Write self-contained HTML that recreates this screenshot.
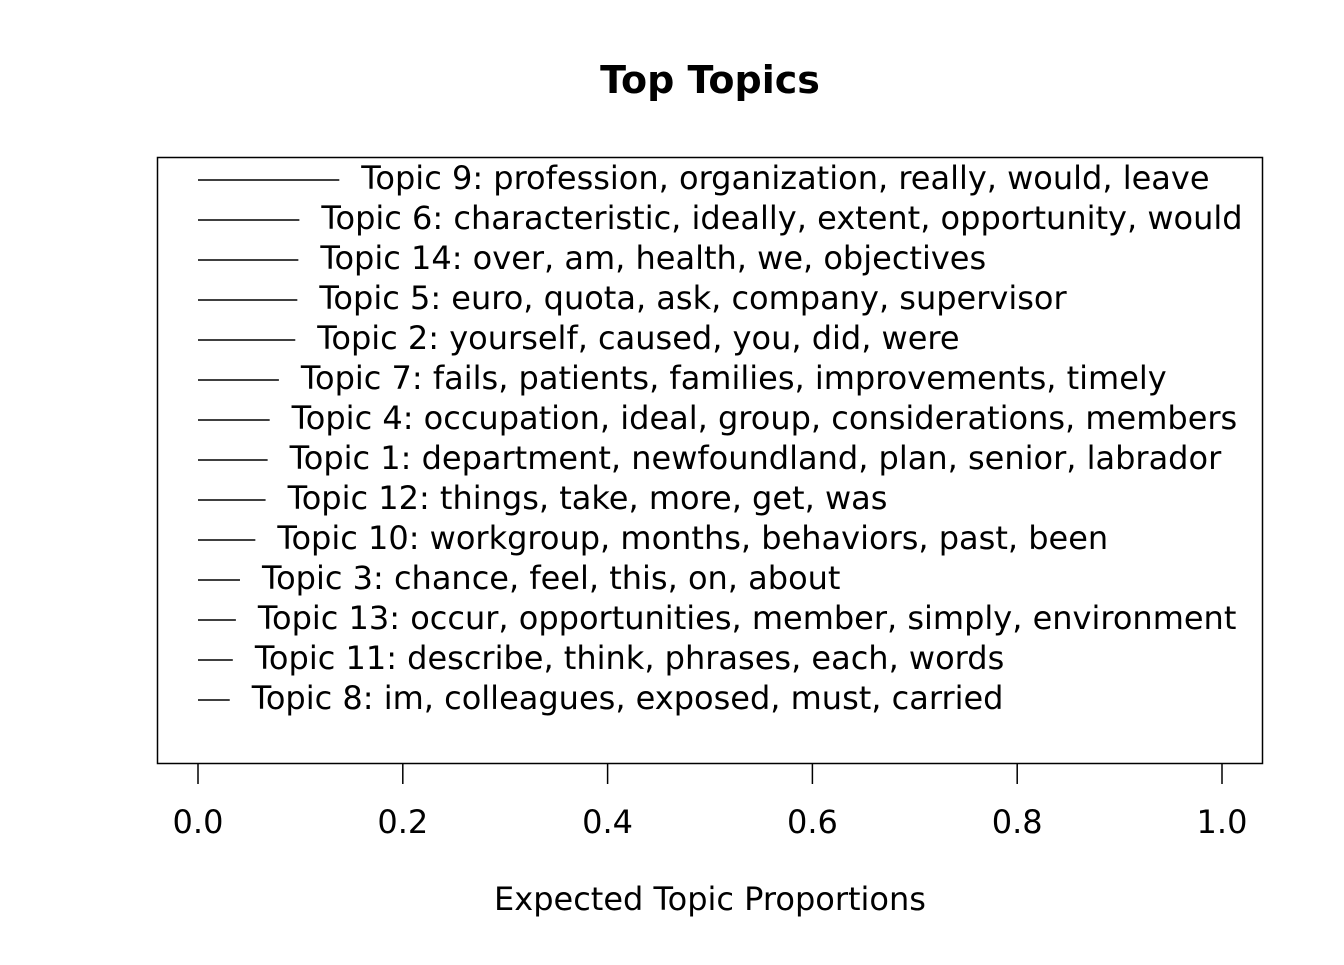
<!DOCTYPE html>
<html><head><meta charset="utf-8"><style>
html,body{margin:0;padding:0;background:#fff;}
svg text{font-family:"DejaVu Sans","Liberation Sans",sans-serif;fill:#000;}
</style></head><body>
<svg id="chart" width="1344" height="960" viewBox="0 0 1344 960" xmlns="http://www.w3.org/2000/svg">
<rect width="1344" height="960" fill="#fff"/>
<text x="710" y="80" font-size="38" font-weight="bold" text-anchor="middle" dominant-baseline="central">Top Topics</text>
<rect x="157.5" y="157.5" width="1105" height="606" fill="none" stroke="#000" stroke-width="1.5"/>
<g id="marks"></g>
<g id="xaxis"></g>
<text x="710" y="899" font-size="32" text-anchor="middle" dominant-baseline="central">Expected Topic Proportions</text>
</svg>
<script>
const topicLabels = [
 "Topic 9: profession, organization, really, would, leave",
 "Topic 6: characteristic, ideally, extent, opportunity, would",
 "Topic 14: over, am, health, we, objectives",
 "Topic 5: euro, quota, ask, company, supervisor",
 "Topic 2: yourself, caused, you, did, were",
 "Topic 7: fails, patients, families, improvements, timely",
 "Topic 4: occupation, ideal, group, considerations, members",
 "Topic 1: department, newfoundland, plan, senior, labrador",
 "Topic 12: things, take, more, get, was",
 "Topic 10: workgroup, months, behaviors, past, been",
 "Topic 3: chance, feel, this, on, about",
 "Topic 13: occur, opportunities, member, simply, environment",
 "Topic 11: describe, think, phrases, each, words",
 "Topic 8: im, colleagues, exposed, must, carried"
];
const proportions = [0.138,0.099,0.098,0.097,0.095,0.079,0.070,0.068,0.066,0.056,0.041,0.037,0.034,0.031];
const xTicks = [0,0.2,0.4,0.6,0.8,1.0];
const xTickLabels = ["0.0","0.2","0.4","0.6","0.8","1.0"];

const NS="http://www.w3.org/2000/svg";
const xScale = v => 198 + v*1024;
const yScale = i => 178 + i*40;
const marks=document.getElementById('marks');
proportions.forEach((p,i)=>{
  const y=yScale(i);
  const l=document.createElementNS(NS,'line');
  l.setAttribute('x1',xScale(0));l.setAttribute('x2',xScale(p));
  l.setAttribute('y1',y+2);l.setAttribute('y2',y+2);
  l.setAttribute('stroke','#000');l.setAttribute('stroke-width','1.5');
  
  
  marks.appendChild(l);
  const t=document.createElementNS(NS,'text');
  t.setAttribute('x',xScale(p)+22);t.setAttribute('y',y);
  t.setAttribute('font-size','32');t.setAttribute('dominant-baseline','central');
  t.textContent=topicLabels[i];
  
  
  marks.appendChild(t);
});
const ax=document.getElementById('xaxis');
xTicks.forEach((v,i)=>{
  const x=xScale(v);
  const l=document.createElementNS(NS,'line');
  l.setAttribute('x1',x);l.setAttribute('x2',x);l.setAttribute('y1',764);l.setAttribute('y2',784);
  l.setAttribute('stroke','#000');l.setAttribute('stroke-width','1.5');
  
  
  ax.appendChild(l);
  const t=document.createElementNS(NS,'text');
  t.setAttribute('x',x);t.setAttribute('y',822);t.setAttribute('font-size','32');
  t.setAttribute('text-anchor','middle');t.setAttribute('dominant-baseline','central');
  t.textContent=xTickLabels[i];
  
  
  ax.appendChild(t);
});
</script>
</body></html>
